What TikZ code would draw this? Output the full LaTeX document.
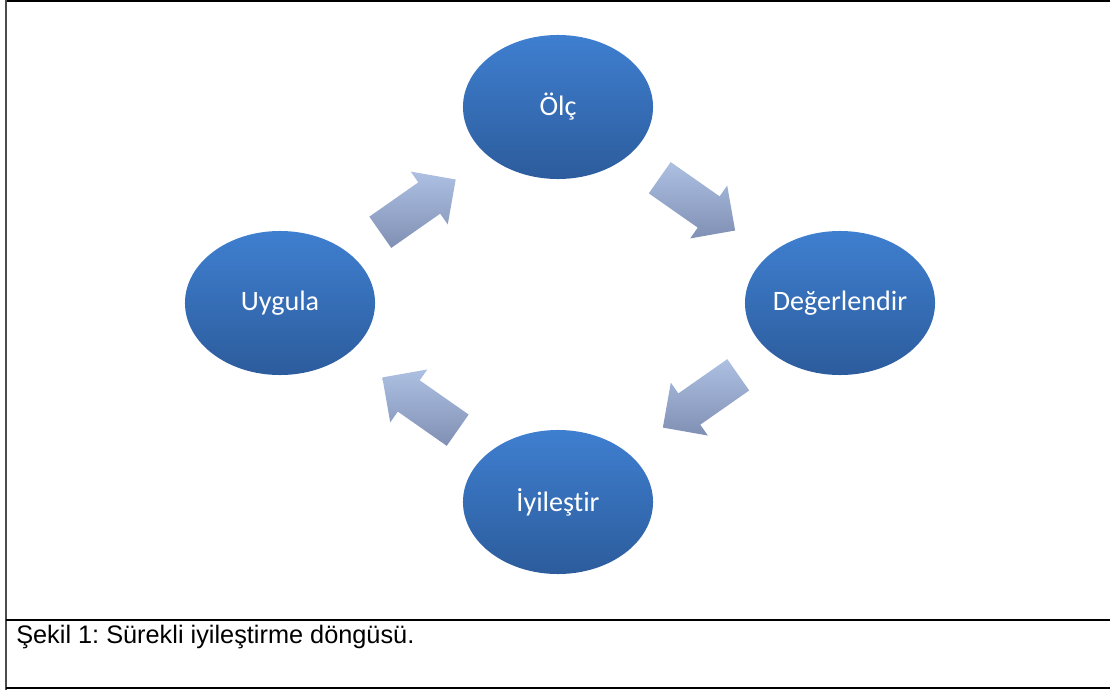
\documentclass[tikz,border=0pt]{standalone}
\usepackage{fontspec}
\setmainfont{Liberation Sans}
\newfontfamily\calibri[Ligatures=NoCommon]{Carlito}
\usetikzlibrary{shapes.geometric, shapes.arrows, calc}
\frenchspacing

\definecolor{ovaltop}{HTML}{3F7FD0}
\definecolor{ovalbottom}{HTML}{2C5C9C}
\definecolor{flowtop}{HTML}{ADC0E2}
\definecolor{flowbottom}{HTML}{8090B4}

\begin{document}
\begin{tikzpicture}[x=0.025cm, y=-0.025cm,
  oval/.style={ellipse, minimum width=4.75cm, minimum height=3.6cm, inner sep=0pt,
    top color=ovaltop, bottom color=ovalbottom, text=white,
    font=\calibri\fontsize{20}{24}\selectfont},
  flow/.style={single arrow, anchor=tail, minimum height=2.3cm, inner xsep=0pt, inner ysep=0.47cm,
    single arrow head extend=0.33cm, single arrow head indent=0pt,
    top color=flowtop, bottom color=flowbottom}]

\useasboundingbox (0,0) rectangle (1110,690);

% Frame
\draw[line width=1pt] (6,1) -- (1110,1);
\draw[line width=1.4pt, black!70] (6,0) -- (6,690);
\draw[line width=1.4pt] (6,620) -- (1110,620);
\draw[line width=1.4pt] (6,688) -- (1110,688);

% Cycle
\node[oval] (olc) at (558,107) {Ölç};
\node[oval] (deger) at (840,303) {Değerlendir};
\node[oval] (iyi) at (558,502) {İyileştir};
\node[oval] (uygula) at (280,303) {Uygula};

% Arrows
\node[flow, rotate=35] (a1) at ($(uygula)!0.36!(olc)$) {};
\node[flow, rotate=-35] (a2) at ($(olc)!0.36!(deger)$) {};
\node[flow, rotate=215] (a3) at ($(deger)!0.36!(iyi)$) {};
\node[flow, rotate=145] (a4) at ($(iyi)!0.36!(uygula)$) {};

% Caption
\node[anchor=base west, inner sep=0pt, font=\fontsize{18}{22}\selectfont] (caption) at (16,643)
  {Şekil 1: Sürekli iyileştirme döngüsü.};

\end{tikzpicture}
\end{document}
